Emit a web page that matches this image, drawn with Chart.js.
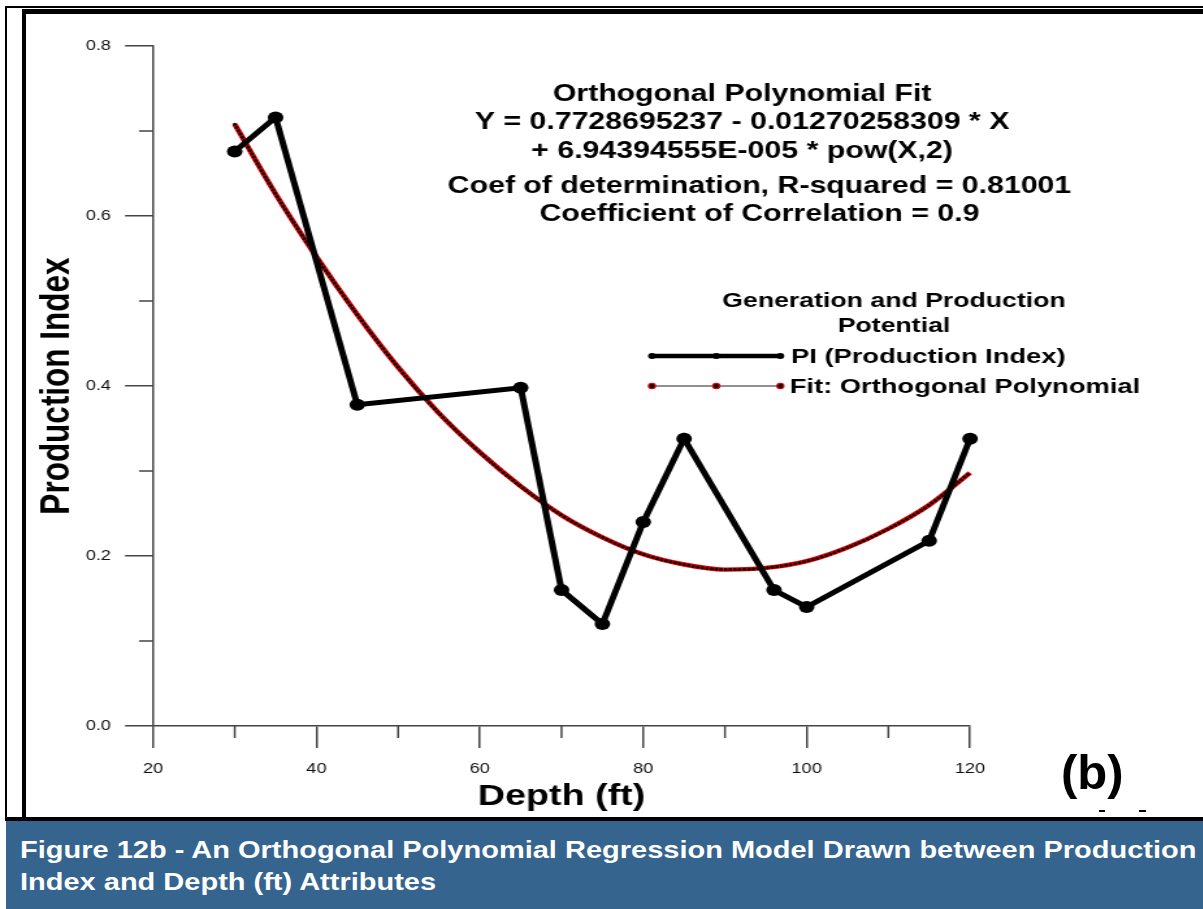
<!DOCTYPE html>
<html>
<head>
<meta charset="utf-8">
<script src="https://cdn.jsdelivr.net/npm/chart.js@4.4.1/dist/chart.umd.min.js"></script>
<style>
  html, body { margin:0; padding:0; background:#fff; }
  body { width:1203px; height:909px; position:relative; overflow:hidden; font-family:"Liberation Sans", Arial, sans-serif; }
  #wrap { position:absolute; left:0; top:0; width:925px; height:818px; transform:scaleX(1.3); transform-origin:0 0; }
  .ln { position:absolute; background:#000; }
  #caption { position:absolute; left:6px; top:821px; width:1197px; height:88px; background:#35648f; }
  #captext { position:absolute; left:14px; top:13px; color:#fff; font-weight:bold; font-size:24px; line-height:32px; white-space:nowrap; transform:scaleX(1.208); transform-origin:0 0; }
  #plabel { position:absolute; left:1061px; top:746px; font-weight:bold; font-size:49px; line-height:53px; color:#000; }
</style>
</head>
<body>
<div id="wrap"><canvas id="c" width="925" height="818"></canvas></div>
<div class="ln" style="left:5px; top:6px; width:1.5px; height:815px;"></div>
<div class="ln" style="left:5px; top:6px; width:1198px; height:1.5px;"></div>
<div class="ln" style="left:22px; top:9px; width:4px; height:810px;"></div>
<div class="ln" style="left:22px; top:9px; width:1181px; height:5px;"></div>
<div class="ln" style="left:5px; top:817px; width:1198px; height:4px;"></div>
<div class="ln" style="left:1099px; top:810px; width:6px; height:1.5px;"></div>
<div class="ln" style="left:1139px; top:810px; width:7px; height:1.5px;"></div>
<div id="plabel">(b)</div>
<div id="caption"><div id="captext">Figure 12b - An Orthogonal Polynomial Regression Model Drawn between Production<br>Index and Depth (ft) Attributes</div></div>
<script>
// ---- data ----
const depth = [30, 35, 45, 65, 70, 75, 80, 85, 96, 100, 115, 120];
const piValues = [0.438, 0.458, 0.289, 0.299, 0.180, 0.160, 0.220, 0.269, 0.180, 0.170, 0.209, 0.269];
const fitDepth = [30, 35, 40, 45, 50, 55, 60, 65, 70, 75, 80, 85, 90, 95, 100, 105, 110, 115, 120];
const fitValues = [0.454, 0.413, 0.376, 0.342, 0.311, 0.284, 0.261, 0.241, 0.224, 0.211, 0.201, 0.195, 0.192, 0.193, 0.197, 0.205, 0.216, 0.230, 0.249];
const xTickValues = [20, 40, 60, 80, 100, 120];
const yTickLabels = ['0.0', '0.2', '0.4', '0.6', '0.8'];
const seriesLabels = ['PI (Production Index)', 'Fit: Orthogonal Polynomial'];
const legendTitle = ['Generation and Production', 'Potential'];
const fitTextBlock1 = ['Orthogonal Polynomial Fit', 'Y = 0.7728695237 - 0.01270258309 * X', '+ 6.94394555E-005 * pow(X,2)'];
const fitTextBlock2 = ['Coef of determination, R-squared = 0.81001', 'Coefficient of Correlation = 0.9'];
const xTitle = 'Depth (ft)';
const yTitle = 'Production Index';

const FONT = '"Liberation Sans", Arial, sans-serif';
Chart.defaults.font.family = FONT;

const piData = depth.map((d, i) => ({x: d, y: piValues[i]}));
const fitData = fitDepth.map((d, i) => ({x: d, y: fitValues[i]}));

const overlay = {
  id: 'overlay',
  afterDraw(chart) {
    const ctx = chart.ctx;
    const x = chart.scales.x, y = chart.scales.y;
    ctx.save();
    // minor ticks
    ctx.strokeStyle = '#444';
    ctx.lineWidth = 1.5;
    [30, 50, 70, 90, 110].forEach(v => {
      const px = x.getPixelForValue(v);
      ctx.beginPath(); ctx.moveTo(px, y.bottom); ctx.lineTo(px, y.bottom + 12); ctx.stroke();
    });
    [0.15, 0.25, 0.35, 0.45].forEach(v => {
      const py = y.getPixelForValue(v);
      ctx.beginPath(); ctx.moveTo(x.left, py); ctx.lineTo(x.left - 10.8, py); ctx.stroke();
    });
    // annotation text
    ctx.fillStyle = '#000';
    ctx.textAlign = 'center';
    ctx.textBaseline = 'middle';
    ctx.font = 'bold 23.3px ' + FONT;
    const ys1 = [95, 123, 152];
    fitTextBlock1.forEach((t, i) => ctx.fillText(t, 570.8, ys1[i]));
    const ys2 = [187, 215];
    fitTextBlock2.forEach((t, i) => ctx.fillText(t, 584.2, ys2[i]));
    // legend
    ctx.font = 'bold 20.5px ' + FONT;
    ctx.fillText(legendTitle[0], 687.7, 301);
    ctx.fillText(legendTitle[1], 687.7, 326);
    const lx = [501.5, 551, 600.3];
    // item 1
    ctx.strokeStyle = '#000'; ctx.lineWidth = 4.5;
    ctx.beginPath(); ctx.moveTo(lx[0], 356); ctx.lineTo(lx[2], 356); ctx.stroke();
    ctx.fillStyle = '#000';
    lx.forEach(px => { ctx.beginPath(); ctx.arc(px, 356, 3, 0, Math.PI * 2); ctx.fill(); });
    // item 2
    ctx.strokeStyle = '#222'; ctx.lineWidth = 1;
    ctx.beginPath(); ctx.moveTo(lx[0], 386); ctx.lineTo(lx[2], 386); ctx.stroke();
    lx.forEach(px => {
      ctx.beginPath(); ctx.arc(px, 386, 2.6, 0, Math.PI * 2);
      ctx.fillStyle = '#000'; ctx.fill();
      ctx.strokeStyle = '#e00000'; ctx.lineWidth = 1.2; ctx.stroke();
    });
    ctx.fillStyle = '#000';
    ctx.textAlign = 'left';
    ctx.font = 'bold 21px ' + FONT;
    ctx.fillText(chart.data.datasets[0].label, 608.5, 357);
    ctx.fillText(chart.data.datasets[2].label, 607.5, 387);
    ctx.restore();
  }
};

new Chart(document.getElementById('c'), {
  type: 'line',
  data: {
    datasets: [
      {
        label: seriesLabels[0],
        data: piData,
        borderColor: '#000',
        borderWidth: 5,
        pointRadius: 6,
        pointBackgroundColor: '#000',
        pointBorderColor: '#000',
        pointBorderWidth: 0,
        tension: 0,
        clip: false,
        order: 0
      },
      {
        label: '_fitUnder',
        data: fitData,
        borderColor: '#e00000',
        borderWidth: 4.4,
        pointRadius: 0,
        cubicInterpolationMode: 'monotone',
        clip: false,
        order: 2
      },
      {
        label: seriesLabels[1],
        data: fitData,
        borderColor: '#000',
        borderWidth: 3,
        borderDash: [0, 3.6],
        borderCapStyle: 'round',
        pointRadius: 0,
        cubicInterpolationMode: 'monotone',
        clip: false,
        order: 1
      }
    ]
  },
  options: {
    responsive: false,
    animation: false,
    devicePixelRatio: 1,
    layout: { padding: { left: 0, top: 46, right: 178.8, bottom: 0 } },
    plugins: { legend: { display: false }, tooltip: { enabled: false } },
    scales: {
      x: {
        type: 'linear',
        min: 20, max: 120,
        afterFit: s => { s.height = 92; },
        afterBuildTicks: s => { s.ticks = xTickValues.map(v => ({value: v})); },
        ticks: { color: '#111', font: { size: 14 }, padding: 13, callback: v => String(v) },
        grid: { drawOnChartArea: false, drawTicks: true, tickLength: 22, color: '#444', lineWidth: 1.5 },
        border: { display: true, color: '#444', width: 1.5 },
        title: { display: true, text: xTitle, color: '#000', font: { size: 29, weight: 'bold' }, padding: { top: 0, bottom: 3.6 } }
      },
      y: {
        type: 'linear',
        min: 0.1, max: 0.5,
        afterFit: s => { s.width = 117.7; },
        ticks: { stepSize: 0.1, color: '#111', font: { size: 14 }, padding: 10.8, callback: (v, i) => yTickLabels[i] },
        grid: { drawOnChartArea: false, drawTicks: true, tickLength: 21.5, color: '#444', lineWidth: 1.5 },
        border: { display: true, color: '#444', width: 1.5 },
        title: { display: true, text: yTitle, color: '#000', font: { size: 31.5, weight: 'bold' }, padding: { top: 25.7, bottom: 0 } }
      }
    }
  },
  plugins: [overlay]
});
</script>
</body>
</html>
